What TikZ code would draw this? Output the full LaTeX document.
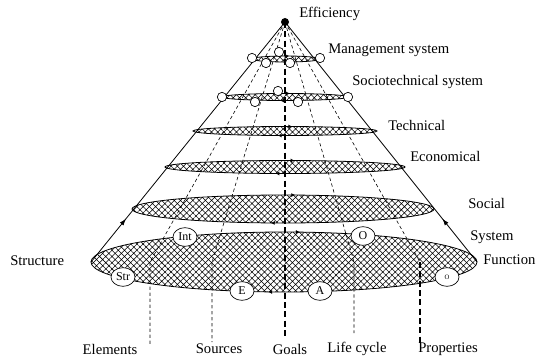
\documentclass[tikz,border=0pt]{standalone}
\usepackage{fontspec}
\setmainfont{Liberation Serif}
\usetikzlibrary{shapes, arrows.meta, positioning, patterns.meta, decorations.markings}

\begin{document}
\begin{tikzpicture}[x=0.75pt, y=-0.75pt, >={Latex[length=4pt]}, font=\fontsize{11}{13}\selectfont]
        % 定义样式
        \tikzstyle{ring} = [draw, line width=0.6pt, pattern={Hatch[angle=45, distance=3.3pt, line width=0.4pt]},
            postaction={decorate, decoration={markings,
                mark=at position 0.27 with {\arrow{Latex[length=3pt, width=3pt]}},
                mark=at position 0.77 with {\arrow{Latex[length=3pt, width=3pt]}}}}]
        \tikzstyle{tag} = [draw, fill=white, ellipse, inner sep=0.5pt, minimum width=18pt, minimum height=14pt, font=\small, line width=0.5pt]
        \tikzstyle{dot} = [draw, fill=white, circle, inner sep=0pt, minimum size=7pt, line width=0.5pt]
        \tikzstyle{txt} = [inner sep=0pt, anchor=west]
        \tikzstyle{bottomtxt} = [inner sep=0pt]
        \tikzstyle{guide} = [dash pattern=on 2.5pt off 2pt, line width=0.45pt]
        \tikzstyle{mainguide} = [dash pattern=on 4.5pt off 2.5pt, line width=1pt]
        \tikzstyle{edge} = [line width=0.6pt, postaction={decorate, decoration={markings,
                mark=at position 0.18 with {\arrow{Latex[length=5pt, width=3.5pt]}}}}]

        \useasboundingbox (0,0) rectangle (538,356);

        % 椭圆层
        \coordinate (mgmt) at (286,59);
        \coordinate (socio) at (285,97);
        \coordinate (tech) at (285,131);
        \coordinate (econ) at (285,167);
        \coordinate (social) at (283,209);
        \coordinate (sys) at (284,262);
        \draw[ring] (mgmt) ellipse [x radius=34, y radius=3];
        \draw[ring] (socio) ellipse [x radius=63, y radius=3.5];
        \draw[ring] (tech) ellipse [x radius=92, y radius=4.5];
        \draw[ring] (econ) ellipse [x radius=120, y radius=6.5];
        \draw[ring] (social) ellipse [x radius=151, y radius=14];
        \draw[ring] (sys) ellipse [x radius=193, y radius=30];

        % 锥体
        \coordinate (apex) at (285,22);
        \coordinate (sysL) at (91,262);
        \coordinate (sysR) at (477,262);
        \draw[edge] (sysL) -- (apex);
        \draw[edge] (sysR) -- (apex);
        \fill (apex) circle (4);

        % 虚线
        \coordinate (elemBend) at (150,262);
        \coordinate (elemEnd) at (150,344);
        \coordinate (srcBend) at (212,262);
        \coordinate (srcEnd) at (212,342);
        \coordinate (goalEnd) at (285,337);
        \coordinate (lifeBend) at (354,262);
        \coordinate (lifeEnd) at (354,333);
        \coordinate (propBend) at (420,262);
        \coordinate (propEnd) at (420,345);
        \draw[guide] (apex) -- (elemBend) -- (elemEnd);
        \draw[guide] (apex) -- (srcBend) -- (srcEnd);
        \draw[guide] (apex) -- (lifeBend) -- (lifeEnd);
        \draw[guide] (apex) -- (propBend);
        \draw[mainguide] (propBend) -- (propEnd);
        \draw[mainguide] (apex) -- (goalEnd);

        % 小圆
        \node[dot] (m1) at (252,58) {};
        \node[dot] (m2) at (279,52) {};
        \node[dot] (m3) at (266,63) {};
        \node[dot] (m4) at (290,63) {};
        \node[dot] (m5) at (320,58) {};
        \node[dot] (s1) at (222,97) {};
        \node[dot] (s2) at (278,91) {};
        \node[dot] (s3) at (255,102) {};
        \node[dot] (s4) at (298,102) {};
        \node[dot] (s5) at (348,97) {};
        \node[tag] (int) at (185,237) {Int};
        \node[tag] (out) at (363,236) {O};
        \node[tag] (str) at (123,277) {Str};
        \node[tag] (el) at (242,291) {E};
        \node[tag] (act) at (320,291) {A};
        \node[tag] (prop) at (447,277) {\tiny O};

        % 文字
        \node[txt] (eff) at (299,14) {Efficiency};
        \node[txt] (mgmtTxt) at (328,50) {Management system};
        \node[txt] (socioTxt) at (352,82) {Sociotechnical system};
        \node[txt] (techTxt) at (388,125) {Technical};
        \node[txt] (econTxt) at (410,156) {Economical};
        \node[txt] (socialTxt) at (468,203) {Social};
        \node[txt] (sysTxt) at (470,237) {System};
        \node[txt] (func) at (483,260) {Function};
        \node[txt] (struct) at (10,261) {Structure};
        \node[bottomtxt] (elements) at (110,349) {Elements};
        \node[bottomtxt] (sources) at (219,349) {Sources};
        \node[bottomtxt] (goals) at (290,349) {Goals};
        \node[bottomtxt] (life) at (357,349) {Life cycle};
        \node[bottomtxt] (props) at (448,349) {Properties};
    \end{tikzpicture}
\end{document}
